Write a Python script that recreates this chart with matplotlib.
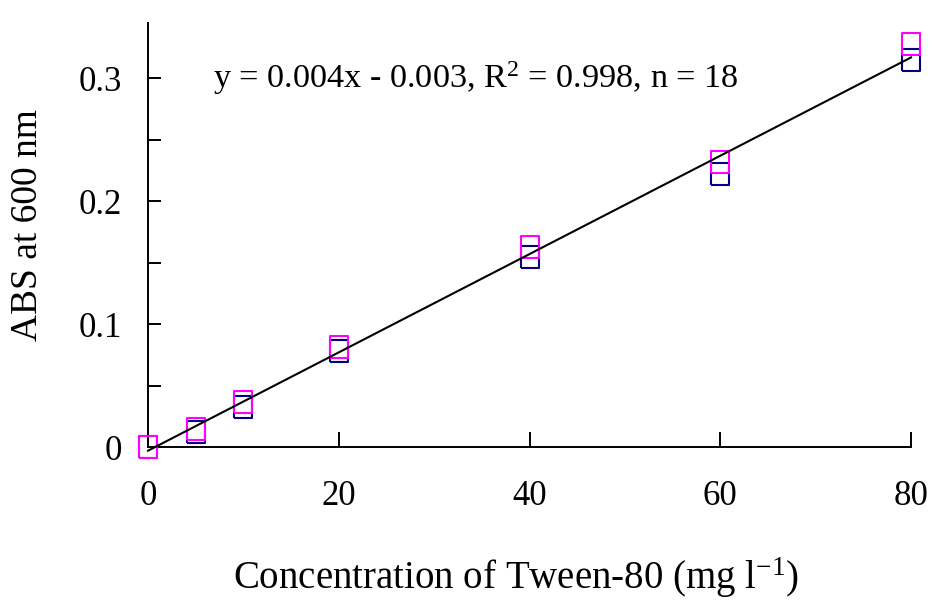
import matplotlib
matplotlib.use("Agg")
import matplotlib.pyplot as plt
import numpy as np

# Tween-80 calibration: absorbance at 600 nm, two replicate series
conc = [0, 5, 10, 20, 40, 60, 80]
abs_rep1 = [0.0, 0.012, 0.0325, 0.078, 0.1545, 0.222, 0.3146]
abs_rep2 = [0.0, 0.015, 0.0366, 0.0813, 0.1626, 0.2317, 0.3276]
slope, intercept = 0.004, -0.003
eq_text = r"y = 0.004x - 0.003, R$^{2}$ = 0.998, n = 18"
x_ticks = [0, 20, 40, 60, 80]
y_ticks = [0, 0.1, 0.2, 0.3]
y_tick_labels = ["0", "0.1", "0.2", "0.3"]

plt.rcParams["font.family"] = ["Liberation Serif", "DejaVu Serif"]
plt.rcParams["mathtext.fontset"] = "custom"
plt.rcParams["mathtext.rm"] = "Liberation Serif"
plt.rcParams["mathtext.it"] = "Liberation Serif"

fig = plt.figure(figsize=(9.32, 6.01), dpi=100)
ax = fig.add_axes([0.1588, 0.2562, 0.8187, 0.7055])

# open rectangles, a little taller than wide
box = [(-0.76, -1), (0.76, -1), (0.76, 1), (-0.76, 1), (-0.76, -1)]

ax.plot(conc, abs_rep1, linestyle="none", marker=box, markersize=16.5,
        markerfacecolor="none", markeredgecolor="#000080", markeredgewidth=1.5,
        clip_on=False, zorder=3)
ax.plot(conc, abs_rep2, linestyle="none", marker=box, markersize=16.5,
        markerfacecolor="none", markeredgecolor="#ff00ff", markeredgewidth=1.5,
        clip_on=False, zorder=4)

fit_x = np.array([0, 80])
ax.plot(fit_x, slope * fit_x + intercept, color="black", linewidth=1.5,
        clip_on=False, zorder=5)

ax.text(6.8, 0.3, eq_text, fontsize=24.7, va="center", ha="left")

ax.set_xlim(0, 80)
ax.set_ylim(0, 0.345)
ax.set_xticks(x_ticks)
ax.set_yticks(y_ticks)
ax.set_yticklabels(y_tick_labels)
ax.set_yticks([0.05, 0.15, 0.25], minor=True)

for side in ["top", "right"]:
    ax.spines[side].set_visible(False)
for side in ["left", "bottom"]:
    ax.spines[side].set_linewidth(1.4)

ax.tick_params(axis="x", direction="in", length=11, width=1.4, pad=24,
               labelsize=25)
ax.tick_params(axis="y", which="both", direction="in", length=9, width=1.4,
               pad=19, labelsize=25)

ax.set_ylabel("ABS at 600 nm", fontsize=27)
ax.yaxis.set_label_coords(-0.135, 0.524)
ax.set_xlabel(r"Concentration of Tween-80 (mg l$^{-1}$)", fontsize=28)
ax.xaxis.set_label_coords(0.482, -0.255)

fig.savefig("out.png", dpi=100)
